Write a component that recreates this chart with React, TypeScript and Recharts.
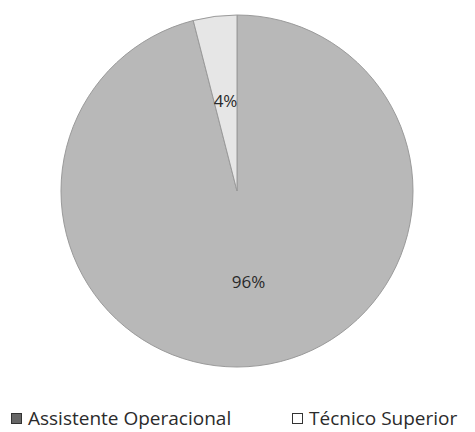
import { PieChart, Pie, Cell, Legend } from 'recharts';

const categories = ['Assistente Operacional', 'Técnico Superior'];
const shares = [96, 4];
const sliceColors = ['#b8b8b8', '#e6e6e6'];

const data = categories.map((name, i) => ({ name, value: shares[i] }));

const RAD = Math.PI / 180;

const renderLabel = (props: any) => {
    const { cx, cy, midAngle, outerRadius, value } = props;
    const r = outerRadius * 0.52;
    const x = cx + r * Math.cos(-midAngle * RAD);
    const y = cy + r * Math.sin(-midAngle * RAD);
    return (
        <text x={x} y={y} fill="#2a2a2a" fontSize={17} textAnchor="middle" dominantBaseline="central"
            fontFamily="'Open Sans', 'Liberation Sans', sans-serif">
            {`${value}%`}
        </text>
    );
};

// legend x positions
const legendLeft = [11, 292];

const LegendContent = () => (
    <div style={{ position: 'relative', height: 30, fontFamily: "'Open Sans', 'Liberation Sans', sans-serif", fontSize: 19, color: '#2b2b2b' }}>
        {categories.map((name, i) => (
            <div key={name} style={{ position: 'absolute', left: legendLeft[i], top: 0, display: 'flex', alignItems: 'center', whiteSpace: 'nowrap' }}>
                <span style={{
                    display: 'inline-block', width: 9, height: 9, border: '1.5px solid #333',
                    background: i === 0 ? '#666' : '#fff', marginRight: 6
                }} />
                <span>{name}</span>
            </div>
        ))}
    </div>
);

export default function App() {
    return (
        <div style={{ margin: '-8px 0 0 -8px', background: '#fff', width: 475, height: 432 }}>
            <PieChart width={475} height={432} margin={{ top: 0, right: 0, bottom: 0, left: 0 }}>
                <Pie
                    data={data}
                    dataKey="value"
                    nameKey="name"
                    cx={237}
                    cy={191}
                    outerRadius={176}
                    startAngle={90}
                    endAngle={-270}
                    label={renderLabel}
                    labelLine={false}
                    isAnimationActive={false}
                >
                    {data.map((d, i) => (
                        <Cell key={d.name} fill={sliceColors[i]} stroke="#9a9a9a" strokeWidth={1} />
                    ))}
                </Pie>
                <Legend
                    verticalAlign="bottom"
                    layout="horizontal"
                    wrapperStyle={{ left: 0, top: 405, width: 475 }}
                    content={<LegendContent />}
                />
            </PieChart>
        </div>
    );
}
